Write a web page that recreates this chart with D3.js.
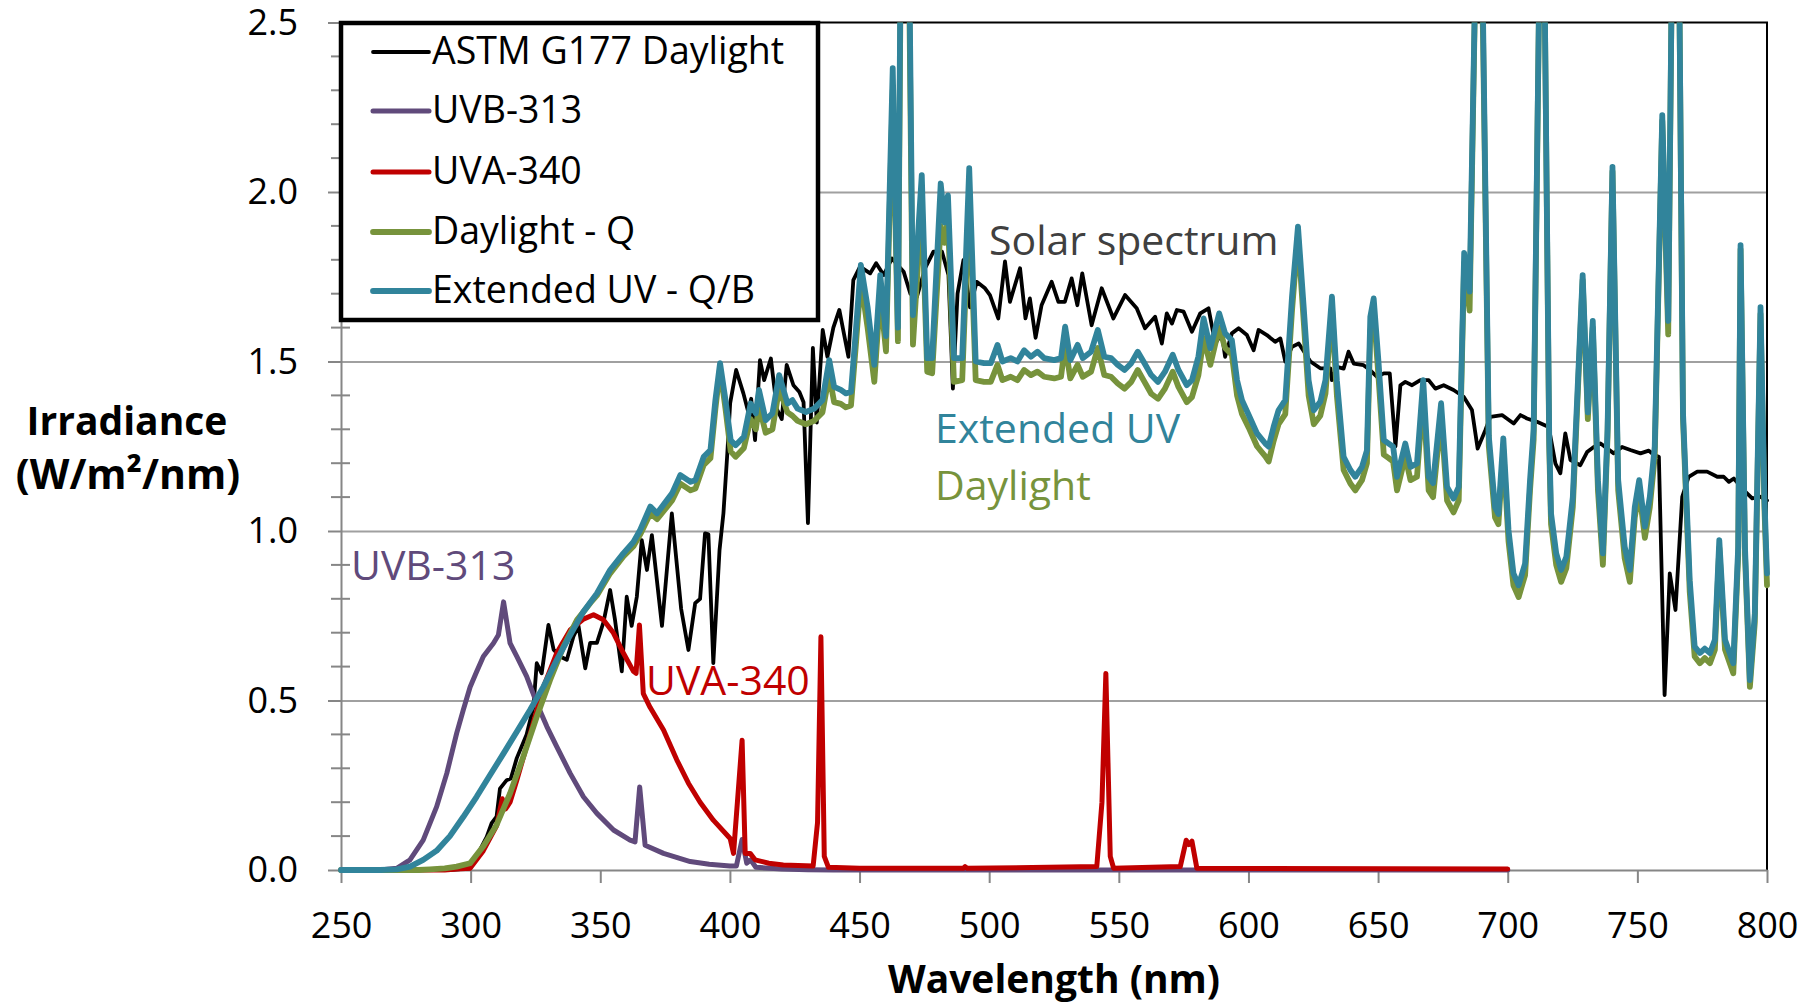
<!DOCTYPE html>
<html>
<head>
<meta charset="utf-8">
<script src="https://cdn.jsdelivr.net/npm/d3@7"></script>
<style>
  body { margin: 0; background: #fff; }
  text { font-family: "Open Sans", "Noto Sans", sans-serif; }
</style>
</head>
<body>
<script>
// tick values
const xTicks = [250, 300, 350, 400, 450, 500, 550, 600, 650, 700, 750, 800];
const yTicks = [0, 0.5, 1.0, 1.5, 2.0, 2.5];
const yMinor = [0.1, 0.2, 0.3, 0.4, 0.6, 0.7, 0.8, 0.9, 1.1, 1.2, 1.3, 1.4, 1.6, 1.7, 1.8, 1.9, 2.1, 2.2, 2.3, 2.4];

// [wavelength nm, irradiance W/m2/nm]
const astm = [[250,0],[290,0],[295,0.002],[299.8,0.005],[302.3,0.04],[306.2,0.098],[308.1,0.138],[310,0.157],[311.3,0.24],[313.9,0.265],[315.5,0.27],[317.8,0.33],[321.6,0.40],[324.2,0.48],[325.5,0.61],[327.4,0.58],[330,0.723],[332,0.65],[334.5,0.63],[337.1,0.62],[339.7,0.69],[341.6,0.72],[344.2,0.595],[346.1,0.67],[348.7,0.67],[351.2,0.73],[353.8,0.826],[355.7,0.737],[358.3,0.586],[360.2,0.806],[362.1,0.72],[364.1,0.806],[366,0.973],[368,0.885],[369.9,0.988],[373.8,0.72],[377.6,1.052],[381.2,0.77],[384,0.649],[386.6,0.787],[388.5,0.80],[390.4,0.993],[391.7,0.99],[393.6,0.61],[396,0.944],[397.5,1.052],[399,1.229],[400.1,1.377],[402.4,1.475],[405.2,1.406],[407.1,1.35],[408.2,1.39],[409.7,1.268],[411.6,1.504],[413.2,1.445],[415.8,1.509],[418.1,1.36],[420,1.33],[421.9,1.49],[424.5,1.43],[426.8,1.41],[428.4,1.38],[430.1,1.023],[432,1.54],[433.5,1.32],[435.8,1.593],[437.6,1.514],[439.9,1.60],[442.2,1.652],[445.7,1.514],[447.6,1.74],[450.2,1.78],[454.1,1.76],[456.4,1.79],[459.3,1.755],[462.5,1.804],[467,1.765],[469.6,1.70],[472.1,1.69],[475.3,1.775],[478.5,1.824],[481.8,1.824],[484.3,1.755],[486,1.42],[487.8,1.70],[490.1,1.80],[492.6,1.66],[495.2,1.735],[498.4,1.716],[500.3,1.696],[503.5,1.627],[506.1,1.795],[508,1.676],[511.9,1.775],[514,1.627],[515.7,1.686],[517.9,1.57],[520.2,1.666],[524.1,1.735],[526.7,1.676],[529.2,1.676],[531.8,1.745],[534,1.666],[535.9,1.76],[539.5,1.607],[543.4,1.716],[547.9,1.627],[552.4,1.696],[556.9,1.657],[560.1,1.598],[564,1.632],[566.6,1.553],[568.5,1.642],[570.5,1.612],[572.4,1.652],[575,1.647],[578.2,1.588],[581.4,1.642],[584.6,1.657],[587.2,1.553],[589.7,1.583],[591,1.514],[593.6,1.583],[596.2,1.598],[599.4,1.578],[602,1.533],[603.9,1.593],[607.1,1.578],[610.3,1.558],[612.3,1.568],[614.2,1.50],[616.8,1.543],[619.4,1.553],[623.9,1.50],[627.7,1.48],[631.6,1.48],[632.2,1.445],[634.1,1.484],[636.7,1.479],[638.6,1.529],[640.6,1.494],[644.4,1.489],[647,1.474],[649.6,1.455],[652.2,1.465],[654.5,1.465],[656.7,1.25],[658.6,1.43],[660.5,1.44],[663.1,1.43],[666.3,1.445],[669.5,1.445],[672.1,1.42],[675.3,1.43],[679.1,1.416],[683,1.396],[686.2,1.357],[688.4,1.243],[691.4,1.298],[693.3,1.337],[697.8,1.342],[702.3,1.317],[704.9,1.342],[707.4,1.332],[711.3,1.322],[715.8,1.307],[718.4,1.199],[720.3,1.17],[722.2,1.288],[724.2,1.209],[728,1.194],[730.6,1.233],[733.2,1.248],[735.8,1.258],[740.9,1.229],[744.1,1.248],[747.3,1.239],[751.2,1.229],[754.4,1.237],[756.4,1.224],[758.3,1.219],[760.5,0.516],[762.5,0.875],[764.7,0.767],[767.3,1.101],[769.8,1.16],[773.1,1.175],[776.9,1.175],[780.8,1.16],[783.3,1.16],[785.3,1.145],[787.2,1.155],[791.1,1.12],[794.3,1.096],[797.5,1.101],[800,1.09]];

const uvb313 = [[250,0],[265,0],[271.5,0.005],[276.6,0.03],[281.7,0.088],[286.9,0.187],[290.8,0.285],[294.6,0.403],[297.2,0.473],[299.8,0.54],[302.3,0.585],[304.9,0.63],[308.8,0.669],[310.7,0.693],[312.7,0.791],[315.2,0.669],[317.8,0.63],[321.6,0.571],[325.5,0.492],[329.4,0.423],[333.2,0.364],[338.4,0.285],[343.5,0.216],[348.7,0.167],[355.1,0.118],[361.5,0.088],[363.4,0.083],[365.2,0.245],[367.3,0.073],[374.4,0.049],[384.7,0.025],[392,0.017],[400,0.012],[402.5,0.012],[404.7,0.09],[406.5,0.02],[408,0.03],[410,0.008],[420,0.003],[430,0.001],[440,0],[700,0]];

const uva340 = [[250,0],[290,0],[294.6,0.003],[299.8,0.005],[304.9,0.057],[310,0.13],[312.2,0.21],[313.5,0.18],[315.2,0.2],[317.8,0.265],[322.9,0.40],[328.1,0.54],[333.2,0.64],[338.4,0.708],[343.5,0.74],[347.4,0.753],[351.2,0.738],[355.1,0.699],[358.9,0.64],[362.8,0.586],[363.8,0.58],[365.1,0.723],[366.6,0.52],[369.2,0.48],[374.4,0.413],[379.5,0.325],[384,0.256],[388.5,0.20],[393.6,0.147],[400.1,0.093],[401.4,0.049],[404.7,0.383],[405.9,0.049],[407.8,0.049],[409.7,0.03],[415,0.02],[420.6,0.015],[432.1,0.012],[433.8,0.14],[435.1,0.688],[436.4,0.04],[438,0.008],[450,0.005],[490,0.005],[490.7,0.01],[491.5,0.005],[541.5,0.01],[543.5,0.2],[545,0.58],[546.7,0.04],[548,0.005],[573.7,0.01],[576,0.088],[577,0.075],[578.2,0.085],[580.1,0.005],[700,0.003]];

const daylightQ = [[250,0],[280,0],[284.3,0.002],[290,0.005],[294.6,0.01],[299.8,0.02],[304.9,0.07],[310,0.133],[315.2,0.226],[320.3,0.334],[325.5,0.452],[330.6,0.56],[335.8,0.659],[341,0.737],[346.1,0.787],[348.7,0.81],[353.8,0.875],[358.9,0.925],[362.8,0.955],[365.4,0.99],[369.3,1.052],[371.9,1.035],[375.1,1.065],[377.7,1.09],[380.9,1.14],[384.8,1.12],[386.7,1.125],[389.9,1.195],[392.5,1.215],[394.4,1.36],[396.2,1.48],[398.3,1.36],[400.3,1.235],[402.2,1.219],[405.4,1.245],[408,1.33],[410,1.30],[411.2,1.37],[413.8,1.29],[416.4,1.30],[419,1.42],[422.2,1.35],[424.1,1.34],[426.1,1.325],[429.3,1.315],[432.5,1.325],[435.7,1.35],[438.3,1.46],[440.2,1.38],[442.8,1.375],[444.7,1.365],[446.7,1.37],[448.6,1.55],[450.5,1.74],[453.1,1.60],[455.7,1.44],[458,1.70],[460.2,1.53],[462.8,2.30],[464.8,1.56],[466.3,3.1],[467.3,2.6],[468.6,3.0],[470.6,1.55],[474,1.97],[476.1,1.47],[478,1.465],[481.3,1.90],[482.8,1.85],[484.1,1.92],[486.4,1.44],[489.6,1.445],[492.3,1.99],[494.8,1.445],[498,1.44],[500.6,1.44],[503.2,1.49],[505.1,1.445],[508.3,1.455],[510.9,1.445],[513.5,1.475],[516.1,1.46],[518.6,1.47],[521.2,1.455],[525.1,1.45],[527.7,1.455],[529.3,1.55],[531.3,1.45],[534.1,1.49],[536.1,1.455],[539.3,1.47],[541.9,1.54],[544.4,1.46],[547,1.455],[549.6,1.435],[552.2,1.42],[554.8,1.44],[557.3,1.475],[559.9,1.44],[562.5,1.405],[565.1,1.39],[567.8,1.42],[570.8,1.47],[573,1.425],[576.2,1.38],[578.2,1.395],[580.7,1.46],[582.7,1.57],[585.3,1.49],[588.7,1.60],[591,1.54],[593.6,1.52],[595.6,1.40],[597.5,1.345],[600.1,1.305],[603.3,1.25],[606.5,1.22],[607.8,1.205],[609.7,1.265],[611.6,1.315],[614.2,1.345],[616.8,1.65],[619.1,1.87],[621.3,1.62],[623.2,1.40],[625.2,1.315],[627.7,1.34],[629.7,1.405],[632.2,1.66],[634.1,1.40],[636.7,1.18],[639.3,1.14],[641.2,1.12],[643.8,1.15],[645.7,1.20],[647,1.59],[648.3,1.65],[650.2,1.45],[652.2,1.225],[654.1,1.215],[655.8,1.205],[657.3,1.12],[660.5,1.22],[662.5,1.15],[665,1.16],[667.4,1.40],[669.5,1.12],[671.2,1.10],[674.3,1.34],[676.6,1.09],[679.1,1.055],[681.1,1.09],[683.2,1.79],[685.3,1.65],[688.6,3.1],[690.5,2.45],[692.7,1.25],[695.1,1.04],[696.4,1.02],[698.3,1.24],[700.3,0.97],[702.2,0.84],[704.2,0.805],[706.7,0.87],[708.6,1.12],[710,1.27],[713.3,3.3],[716,1.25],[716.7,1.02],[718.7,0.90],[720.6,0.85],[722.6,0.89],[725.1,1.07],[727.1,1.42],[728.9,1.74],[730.9,1.33],[732.8,1.60],[734.8,1.12],[736.7,0.90],[738.5,1.28],[740.4,2.06],[742.6,1.12],[745.1,0.92],[747.1,0.85],[749,1.04],[750.7,1.12],[752.9,0.98],[754.8,1.07],[756.7,1.22],[759.6,2.21],[761.9,1.58],[763.5,2.8],[765.5,3.2],[767.6,1.33],[770.2,0.82],[772.1,0.63],[774.1,0.61],[776,0.625],[778,0.61],[779.9,0.65],[781.6,0.95],[783.8,0.65],[787,0.58],[788.9,0.93],[789.8,1.83],[791.5,0.93],[793.4,0.54],[795.3,0.73],[797.5,1.64],[799,1.07],[800,0.84]];

const extendedUV = [[250,0],[265,0],[271.5,0.002],[276.6,0.01],[281.7,0.03],[286.9,0.057],[292,0.10],[297.2,0.157],[302.3,0.216],[307.5,0.28],[312.7,0.344],[317.8,0.408],[322.9,0.472],[328.1,0.541],[333.2,0.619],[338.4,0.693],[343.5,0.762],[348.7,0.816],[353.8,0.885],[358.9,0.934],[362.8,0.968],[365.4,1.003],[369.3,1.072],[371.9,1.052],[375.1,1.085],[377.7,1.111],[380.9,1.165],[384.8,1.145],[386.7,1.15],[389.9,1.219],[392.5,1.239],[394.4,1.386],[396.2,1.495],[398.3,1.386],[400.3,1.268],[402.2,1.253],[405.4,1.278],[408,1.376],[410,1.347],[411.2,1.416],[413.8,1.327],[416.4,1.347],[419,1.46],[422.2,1.376],[424.1,1.386],[426.1,1.361],[429.3,1.351],[432.5,1.361],[435.7,1.386],[438.3,1.504],[440.2,1.425],[442.8,1.416],[444.7,1.406],[446.7,1.41],[448.6,1.593],[450.5,1.785],[453.1,1.661],[455.7,1.49],[458,1.755],[460.2,1.575],[462.8,2.365],[464.8,1.6],[466.3,3.2],[467.3,2.7],[468.6,3.1],[470.6,1.637],[474,2.05],[476.1,1.51],[478,1.51],[481.3,2.025],[482.8,1.91],[484.1,1.99],[486.4,1.51],[489.6,1.51],[492.3,2.07],[494.8,1.50],[498,1.495],[500.6,1.495],[503.2,1.549],[505.1,1.50],[508.3,1.51],[510.9,1.50],[513.5,1.533],[516.1,1.514],[518.6,1.529],[521.2,1.51],[525.1,1.504],[527.7,1.51],[529.3,1.603],[531.3,1.504],[534.1,1.549],[536.1,1.51],[539.3,1.529],[541.9,1.593],[544.4,1.514],[547,1.51],[549.6,1.49],[552.2,1.475],[554.8,1.495],[557.3,1.529],[559.9,1.495],[562.5,1.46],[565.1,1.44],[567.8,1.47],[570.8,1.52],[573,1.475],[576.2,1.43],[578.2,1.445],[580.7,1.515],[582.7,1.627],[585.3,1.539],[588.7,1.642],[591,1.583],[593.6,1.563],[595.6,1.445],[597.5,1.386],[600.1,1.342],[603.3,1.288],[606.5,1.258],[607.8,1.249],[609.7,1.307],[611.6,1.356],[614.2,1.386],[616.8,1.691],[619.1,1.898],[621.3,1.661],[623.2,1.445],[625.2,1.356],[627.7,1.381],[629.7,1.445],[632.2,1.691],[634.1,1.445],[636.7,1.219],[639.3,1.18],[641.2,1.16],[643.8,1.189],[645.7,1.238],[647,1.632],[648.3,1.686],[650.2,1.494],[652.2,1.268],[654.1,1.258],[655.8,1.249],[657.3,1.16],[660.5,1.258],[662.5,1.189],[665,1.199],[667.4,1.445],[669.5,1.16],[671.2,1.141],[674.3,1.377],[676.6,1.13],[679.1,1.096],[681.1,1.13],[683.2,1.82],[685.3,1.706],[688.6,3.1],[690.5,2.5],[692.7,1.28],[695.1,1.07],[696.4,1.05],[698.3,1.273],[700.3,1.003],[702.2,0.875],[704.2,0.84],[706.7,0.904],[708.6,1.15],[710,1.3],[713.3,3.3],[716,1.28],[716.7,1.052],[718.7,0.934],[720.6,0.885],[722.6,0.924],[725.1,1.10],[727.1,1.445],[728.9,1.755],[730.9,1.35],[732.8,1.62],[734.8,1.15],[736.7,0.934],[738.5,1.3],[740.4,2.074],[742.6,1.15],[745.1,0.954],[747.1,0.885],[749,1.07],[750.7,1.15],[752.9,1.013],[754.8,1.10],[756.7,1.249],[759.6,2.227],[761.9,1.62],[763.5,2.8],[765.5,3.2],[767.6,1.35],[770.2,0.855],[772.1,0.659],[774.1,0.64],[776,0.653],[778,0.64],[779.9,0.679],[781.6,0.973],[783.8,0.679],[787,0.61],[788.9,0.954],[789.8,1.843],[791.5,0.954],[793.4,0.56],[795.3,0.757],[797.5,1.66],[799,1.1],[800,0.875]];

const seriesNames = ["ASTM G177 Daylight", "UVB-313", "UVA-340", "Daylight - Q", "Extended UV - Q/B"];
const seriesColors = ["#000000", "#604A7B", "#C00000", "#77933C", "#31849B"];
const seriesData = [astm, uvb313, uva340, daylightQ, extendedUV];

var width = 1819,
    height = 1004;
var plotLeft = 341, plotRight = 1767, plotTop = 22.5, plotBottom = 870;

var svg = d3.select("body")
    .append("svg")
    .attr("width", width)
    .attr("height", height);

var x = d3.scaleLinear().domain([250, 800]).range([plotLeft, plotRight]);
var y = d3.scaleLinear().domain([0, 2.5]).range([plotBottom, plotTop]);

// gridlines
svg.append("g")
    .attr("transform", "translate(" + plotLeft + ",0)")
    .call(d3.axisLeft(y).tickValues([0.5, 1.0, 1.5, 2.0]).tickSize(-(plotRight - plotLeft)).tickFormat(""))
    .call(g => g.select(".domain").remove())
    .selectAll("line")
    .attr("stroke", "#a0a0a0")
    .attr("stroke-width", 2);

// plot border, top and right
svg.append("path")
    .attr("d", "M" + plotLeft + "," + plotTop + "H" + plotRight + "V" + plotBottom)
    .attr("fill", "none")
    .attr("stroke", "#000")
    .attr("stroke-width", 2);

// x axis
var xAxis = svg.append("g")
    .attr("transform", "translate(0," + plotBottom + ")")
    .call(d3.axisBottom(x).tickValues(xTicks).tickSize(13).tickPadding(29).tickSizeOuter(0));
xAxis.select(".domain").attr("stroke", "#868686").attr("stroke-width", 2);
xAxis.selectAll("line").attr("stroke", "#868686").attr("stroke-width", 2);
xAxis.selectAll("text")
    .attr("font-size", 36)
    .attr("font-family", "Open Sans")
    .attr("fill", "#000");

// y axis
var yAxis = svg.append("g")
    .attr("transform", "translate(" + plotLeft + ",0)")
    .call(d3.axisLeft(y).tickValues(yTicks).tickSize(13).tickPadding(30).tickSizeOuter(0).tickFormat(d3.format(".1f")));
yAxis.select(".domain").attr("stroke", "#868686").attr("stroke-width", 2);
yAxis.selectAll("line").attr("stroke", "#868686").attr("stroke-width", 2);
yAxis.selectAll("text")
    .attr("font-size", 36)
    .attr("font-family", "Open Sans")
    .attr("fill", "#000");

// minor ticks crossing the y axis
svg.append("g")
    .selectAll("line")
    .data(yMinor)
    .enter()
    .append("line")
    .attr("x1", plotLeft - 10)
    .attr("x2", plotLeft + 9)
    .attr("y1", d => y(d))
    .attr("y2", d => y(d))
    .attr("stroke", "#868686")
    .attr("stroke-width", 2);

// axis titles
svg.append("text")
    .attr("x", (plotLeft + plotRight) / 2)
    .attr("y", 993)
    .attr("text-anchor", "middle")
    .attr("font-size", 39)
    .attr("font-weight", "bold")
    .text("Wavelength (nm)");

svg.append("text")
    .attr("x", 127)
    .attr("y", 435)
    .attr("text-anchor", "middle")
    .attr("font-size", 39)
    .attr("font-weight", "bold")
    .text("Irradiance");

svg.append("text")
    .attr("x", 128)
    .attr("y", 489)
    .attr("text-anchor", "middle")
    .attr("font-size", 41)
    .attr("font-weight", "bold")
    .text("(W/m\u00B2/nm)");

// series
svg.append("clipPath")
    .attr("id", "plot-clip")
    .append("rect")
    .attr("x", plotLeft - 5)
    .attr("y", plotTop)
    .attr("width", plotRight - plotLeft + 10)
    .attr("height", plotBottom - plotTop + 10);

var line = d3.line()
    .x(d => x(d[0]))
    .y(d => y(d[1]));

var widths = [3.8, 5, 5, 5.8, 5.8];

svg.append("g")
    .attr("clip-path", "url(#plot-clip)")
    .selectAll("path")
    .data(seriesData)
    .enter()
    .append("path")
    .attr("d", d => line(d))
    .attr("fill", "none")
    .attr("stroke", (d, i) => seriesColors[i])
    .attr("stroke-width", (d, i) => widths[i])
    .attr("stroke-linejoin", "round")
    .attr("stroke-linecap", "round");

// annotations
var notes = [
    {t: "Solar spectrum", x: 989, y: 255, c: "#404040"},
    {t: "Extended UV", x: 935, y: 443, c: "#31849B"},
    {t: "Daylight", x: 935, y: 500, c: "#77933C"},
    {t: "UVB-313", x: 351, y: 580, c: "#604A7B"},
    {t: "UVA-340", x: 646, y: 695, c: "#C00000"}
];
svg.append("g")
    .selectAll("text")
    .data(notes)
    .enter()
    .append("text")
    .attr("x", d => d.x)
    .attr("y", d => d.y)
    .attr("font-size", 41)
    .attr("fill", d => d.c)
    .text(d => d.t);

// legend
var legend = svg.append("g");
legend.append("rect")
    .attr("x", 341)
    .attr("y", 23)
    .attr("width", 477)
    .attr("height", 297)
    .attr("fill", "#fff")
    .attr("stroke", "#000")
    .attr("stroke-width", 4.5);

var rowY = [52, 111, 172, 232, 291];
var item = legend.selectAll(".item")
    .data(seriesNames)
    .enter()
    .append("g")
    .attr("class", "item")
    .attr("transform", (d, i) => "translate(0," + rowY[i] + ")");

item.append("line")
    .attr("x1", 373)
    .attr("x2", 429)
    .attr("stroke", (d, i) => seriesColors[i])
    .attr("stroke-width", (d, i) => widths[i])
    .attr("stroke-linecap", "round");

item.append("text")
    .attr("x", 432)
    .attr("y", 11.5)
    .attr("font-size", 37.5)
    .attr("fill", "#000")
    .text(d => d);
</script>
</body>
</html>
